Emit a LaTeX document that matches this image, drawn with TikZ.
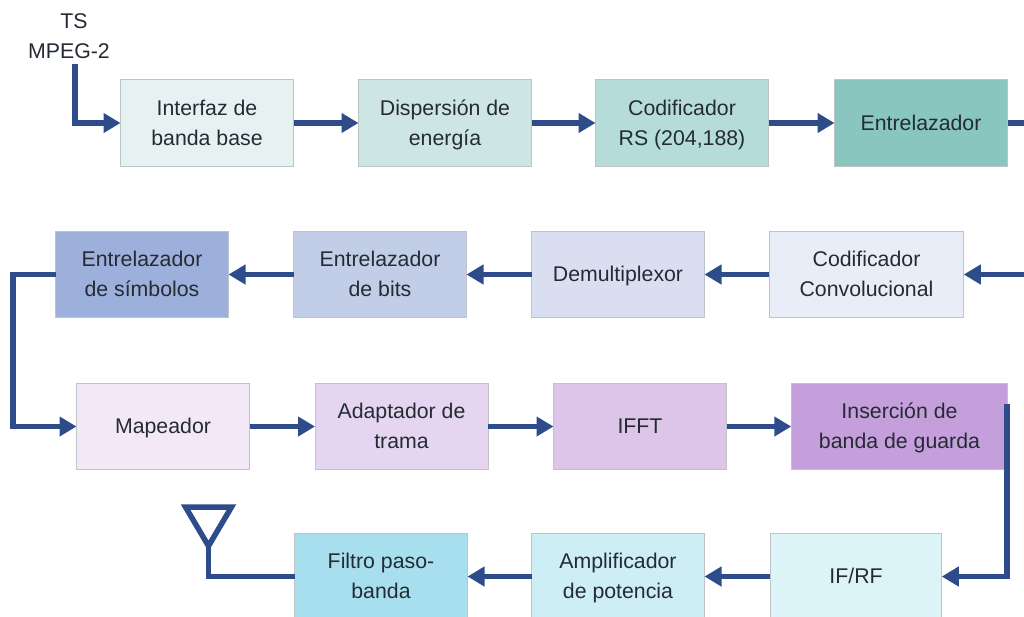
\documentclass[tikz,border=0pt]{standalone}
\usepackage{fontspec}
\setmainfont{Liberation Sans}
\usetikzlibrary{arrows.meta}
\definecolor{wire}{HTML}{2F4C8A}
\definecolor{txt}{HTML}{252B33}
\definecolor{edge}{HTML}{BDC3C7}
\newcommand\blk[1]{\raisebox{-6.3pt}[0pt][0pt]{\begin{tabular}{@{}c@{}}#1\end{tabular}}}
\tikzset{
  blockbox/.style={draw=edge,line width=1pt,inner sep=0pt,outer sep=0pt,text=txt,
    font=\fontsize{21.3}{30}\selectfont,minimum width=#1,minimum height=86.5pt},
  blockbox/.default=173pt,
  lab/.style={inner sep=0pt,text=txt,font=\fontsize{21.3}{30}\selectfont},
  link/.style={wire,line width=5.5pt,-{Triangle[length=17pt,width=19pt]}},
  plainlink/.style={wire,line width=5.5pt}
}
\begin{document}
\begin{tikzpicture}[x=1pt,y=-1pt]
\useasboundingbox (0,0) rectangle (1024,616);
\clip (0,0) rectangle (1024,616);
\fill[white] (0,0) rectangle (1024,616);
% labels
\node[lab] (ts) at (74,21.5) {TS};
\node[lab] (mpeg) at (69,51.5) {MPEG-2};
% row 1
\node[blockbox,fill={rgb,255:red,230;green,242;blue,242}] (b1) at (207,123) {\blk{Interfaz de\\banda base}};
\node[blockbox,fill={rgb,255:red,205;green,230;blue,227}] (b2) at (445,123) {\blk{Dispersión de\\energía}};
\node[blockbox,fill={rgb,255:red,181;green,220;blue,216}] (b3) at (682,123) {\blk{Codificador\\RS (204,188)}};
\node[blockbox,fill={rgb,255:red,136;green,198;blue,191}] (b4) at (921,123) {\blk{Entrelazador}};
% row 2
\node[blockbox=194.5pt,fill={rgb,255:red,233;green,237;blue,247}] (c1) at (866.5,274.5) {\blk{Codificador\\Convolucional}};
\node[blockbox,fill={rgb,255:red,217;green,223;blue,240}] (c2) at (618,274.5) {\blk{Demultiplexor}};
\node[blockbox,fill={rgb,255:red,194;green,206;blue,232}] (c3) at (380,274.5) {\blk{Entrelazador\\de bits}};
\node[blockbox,fill={rgb,255:red,157;green,175;blue,219}] (c4) at (142,274.5) {\blk{Entrelazador\\de símbolos}};
% row 3
\node[blockbox,fill={rgb,255:red,242;green,232;blue,247}] (d1) at (163,426.5) {\blk{Mapeador}};
\node[blockbox,fill={rgb,255:red,230;green,213;blue,240}] (d2) at (401.5,426.5) {\blk{Adaptador de\\trama}};
\node[blockbox,fill={rgb,255:red,220;green,197;blue,233}] (d3) at (640,426.5) {\blk{IFFT}};
\node[blockbox=216.5pt,fill={rgb,255:red,197;green,159;blue,220}] (d4) at (899.5,426.5) {\blk{Inserción de\\banda de guarda}};
% row 4
\node[blockbox=171.5pt,fill={rgb,255:red,220;green,243;blue,248}] (e1) at (856,576.5) {\blk{IF/RF}};
\node[blockbox,fill={rgb,255:red,205;green,238;blue,244}] (e2) at (618,576.5) {\blk{Amplificador\\de potencia}};
\node[blockbox,fill={rgb,255:red,168;green,223;blue,238}] (e3) at (381,576.5) {\blk{Filtro paso-\\banda}};
% free ends
\coordinate (tsstart) at (75,64);
\coordinate (outone) at (1024,123);
\coordinate (intwo) at (1024,274.5);
\coordinate (bendc) at (13,274.5);
\coordinate (bendd) at (13,426.5);
\coordinate (gstart) at (1007,404);
\coordinate (gbend) at (1007,576.5);
\coordinate (anttip) at (208.5,546);
\coordinate (antleft) at (185.5,507);
\coordinate (antright) at (231.5,507);
\coordinate (antbend) at (208.5,576.5);
% connectors
\draw[link,line join=miter] (tsstart) |- (b1.west);
\draw[link] (b1.east) -- (b2.west);
\draw[link] (b2.east) -- (b3.west);
\draw[link] (b3.east) -- (b4.west);
\draw[plainlink] (b4.east) -- (outone);
\draw[link] (intwo) -- (c1.east);
\draw[link] (c1.west) -- (c2.east);
\draw[link] (c2.west) -- (c3.east);
\draw[link] (c3.west) -- (c4.east);
\draw[link] (c4.west) -- (bendc) -- (bendd) -- (d1.west);
\draw[link] (d1.east) -- (d2.west);
\draw[link] (d2.east) -- (d3.west);
\draw[link] (d3.east) -- (d4.west);
\draw[link] (gstart) -- (gbend) -- (e1.east);
\draw[link] (e1.west) -- (e2.east);
\draw[link] (e2.west) -- (e3.east);
\draw[plainlink] (e3.west) -- (antbend) -- (anttip);
\draw[plainlink,line join=miter] (antleft) -- (antright) -- (anttip) -- cycle;
\end{tikzpicture}
\end{document}
